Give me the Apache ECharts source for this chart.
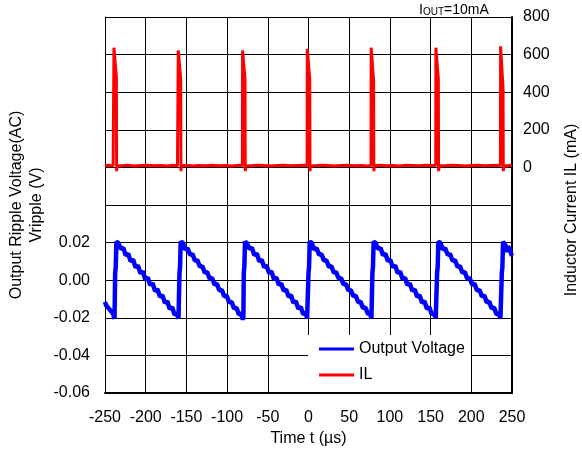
<!DOCTYPE html>
<html>
<head>
<meta charset="utf-8">
<script src="https://cdn.jsdelivr.net/npm/echarts@6/dist/echarts.min.js"></script>
<style>html,body{margin:0;padding:0;background:#fff}#c{width:582px;height:452px}</style>
</head>
<body>
<div id="c"></div>
<script>
// X axis (time, µs)
const xMin = -250, xMax = 250, xStep = 50;
// Left axis: output ripple voltage (V)
const vMin = -0.06, vMax = 0.14, vStep = 0.02, vLabelMax = 0.02;
// Right axis: inductor current (mA)
const iMin = -1200, iMax = 800, iStep = 200, iLabelMin = 0;

const seriesNames = ['Output Voltage', 'IL'];

// Output ripple voltage samples [t (µs), V]
const voltage = [
  [-250,-0.0115],[-248.5,-0.0135],[-247,-0.0125],[-245.5,-0.0150],[-244,-0.0140],[-242.5,-0.0165],[-241,-0.0158],[-240,-0.0180],[-239,-0.0172],[-238.3,-0.0205],[-237.8,-0.0195],
  [-237.5,0.004],[-236.8,0.007],[-236,0.0205],[-234.5,0.0195],
  [-233.5,0.0197],[-230.5,0.0166],[-227.5,0.0172],[-224.5,0.0132],[-221.5,0.0141],[-218.5,0.0100],[-215.5,0.0110],[-212.5,0.0068],[-209.5,0.0078],[-206.5,0.0037],[-203.5,0.0046],[-200.5,0.0005],[-197.5,0.0014],[-194.5,-0.0026],[-191.5,-0.0016],[-188.5,-0.0058],[-185.5,-0.0048],[-182.5,-0.0089],[-179.5,-0.0079],[-176.5,-0.0121],[-173.5,-0.0112],[-170.5,-0.0153],[-167.5,-0.0143],[-164.5,-0.0184],[-161.5,-0.0175],[-159.7,-0.0205],[-159,-0.0195],
  [-158.5,0.004],[-157.8,0.007],[-157,0.0205],[-155.5,0.0195],
  [-154.5,0.0199],[-151.5,0.0163],[-148.5,0.0170],[-145.5,0.0135],[-142.5,0.0139],[-139.5,0.0103],[-136.5,0.0107],[-133.5,0.0072],[-130.5,0.0075],[-127.5,0.0040],[-124.5,0.0044],[-121.5,0.0008],[-118.5,0.0012],[-115.5,-0.0023],[-112.5,-0.0019],[-109.5,-0.0055],[-106.5,-0.0051],[-103.5,-0.0086],[-100.5,-0.0083],[-97.5,-0.0118],[-94.5,-0.0115],[-91.5,-0.0150],[-88.5,-0.0146],[-85.5,-0.0183],[-82.5,-0.0178],[-80.7,-0.0210],[-80,-0.0195],
  [-79.5,0.004],[-78.8,0.007],[-78,0.0205],[-76.5,0.0195],
  [-75.5,0.0196],[-72.5,0.0167],[-69.5,0.0173],[-66.5,0.0133],[-63.5,0.0142],[-60.5,0.0101],[-57.5,0.0109],[-54.5,0.0069],[-51.5,0.0079],[-48.5,0.0038],[-45.5,0.0047],[-42.5,0.0006],[-39.5,0.0015],[-36.5,-0.0025],[-33.5,-0.0017],[-30.5,-0.0057],[-27.5,-0.0049],[-24.5,-0.0088],[-21.5,-0.0080],[-18.5,-0.0120],[-15.5,-0.0111],[-12.5,-0.0152],[-9.5,-0.0142],[-6.5,-0.0181],[-3.5,-0.0174],[-1.7,-0.0203],[-1,-0.0195],
  [0,0.004],[0.7,0.007],[1.5,0.0205],[3,0.0195],
  [4,0.0198],[7,0.0164],[10,0.0169],[13,0.0136],[16,0.0138],[19,0.0104],[22,0.0106],[25,0.0071],[28,0.0076],[31,0.0041],[34,0.0043],[37,0.0009],[40,0.0011],[43,-0.0022],[46,-0.0020],[49,-0.0054],[52,-0.0052],[55,-0.0085],[58,-0.0082],[61,-0.0117],[64,-0.0114],[67,-0.0149],[70,-0.0145],[73,-0.0180],[76,-0.0177],[77.3,-0.0205],[78,-0.0195],
  [78.5,0.004],[79.2,0.007],[80,0.0205],[81.5,0.0195],
  [82.5,0.0197],[85.5,0.0166],[88.5,0.0171],[91.5,0.0133],[94.5,0.0141],[97.5,0.0102],[100.5,0.0108],[103.5,0.0069],[106.5,0.0078],[109.5,0.0038],[112.5,0.0046],[115.5,0.0006],[118.5,0.0013],[121.5,-0.0025],[124.5,-0.0017],[127.5,-0.0057],[130.5,-0.0049],[133.5,-0.0088],[136.5,-0.0080],[139.5,-0.0120],[142.5,-0.0112],[145.5,-0.0152],[148.5,-0.0143],[151.5,-0.0183],[154.5,-0.0175],[156.3,-0.0203],[157.3,-0.0195],
  [158,0.004],[158.7,0.007],[159.5,0.0205],[161,0.0195],
  [162,0.0199],[165,0.0164],[168,0.0170],[171,0.0135],[174,0.0139],[177,0.0103],[180,0.0107],[183,0.0071],[186,0.0076],[189,0.0040],[192,0.0044],[195,0.0008],[198,0.0012],[201,-0.0023],[204,-0.0019],[207,-0.0055],[210,-0.0051],[213,-0.0086],[216,-0.0082],[219,-0.0118],[222,-0.0114],[225,-0.0150],[228,-0.0145],[231,-0.0182],[234,-0.0177],[235.8,-0.0205],[236.8,-0.0195],
  [237.5,0.004],[238.2,0.007],[239,0.0205],[240.5,0.0195],[242,0.0185],[243.5,0.0150],[245,0.0180],[246.5,0.0170],[248,0.0155],[249,0.0140],[250,0.0130]
];

// Inductor current samples [t (µs), mA]
const current = [
  [-250,8],[-246,11],[-243,9],[-240,10],[-239.2,10],[-239,637],[-236,480],[-235.7,-20],[-235.1,10],
  [-230,9],[-222,11],[-214,8],[-206,10],[-198,12],[-190,9],[-182,10],[-174,8],[-166,11],[-161,9],
  [-160.2,10],[-160,622],[-157,470],[-156.7,-20],[-156.1,9],
  [-150,11],[-142,8],[-134,10],[-126,9],[-118,12],[-110,9],[-102,10],[-94,8],[-86,11],
  [-81.2,10],[-81,622],[-78,470],[-77.7,-20],[-77.1,10],
  [-70,9],[-62,11],[-54,10],[-46,8],[-38,10],[-30,12],[-22,9],[-14,10],[-6,11],
  [-1.7,10],[-1.5,630],[1.5,470],[1.8,-20],[2.4,10],
  [8,9],[16,11],[24,10],[32,8],[40,10],[48,12],[56,9],[64,10],[72,8],
  [76.8,10],[77,637],[80,460],[80.3,-20],[80.9,10],
  [88,11],[96,9],[104,10],[112,8],[120,11],[128,10],[136,9],[144,12],[152,10],
  [156.3,10],[156.5,637],[159.5,470],[159.8,-20],[160.4,10],
  [168,9],[176,11],[184,10],[192,8],[200,10],[208,12],[216,9],[224,10],[232,11],
  [235.8,10],[236,644],[239,420],[239.3,-20],[239.9,10],
  [244,9],[247,11],[250,10]
];

const FONT = 'Liberation Sans, Arial, sans-serif';
const chart = echarts.init(document.getElementById('c'), null, {renderer: 'canvas'});
chart.setOption({
  animation: false,
  backgroundColor: '#fff',
  textStyle: {fontFamily: FONT, color: '#000'},
  title: {
    left: 414, top: -4,
    text: '{a|I}{s|OUT}{a|=10mA}',
    textStyle: {
      fontWeight: 'normal',
      rich: {
        a: {fontSize: 14, fontFamily: FONT, fontWeight: 'normal', color: '#000', lineHeight: 16, verticalAlign: 'bottom'},
        s: {fontSize: 10, fontFamily: FONT, fontWeight: 'normal', color: '#000', lineHeight: 10, verticalAlign: 'bottom'}
      }
    }
  },
  grid: {left: 105, right: 70, top: 17, bottom: 59, outerBoundsMode: 'none', containLabel: false},
  legend: {
    orient: 'vertical', left: 308, top: 335,
    backgroundColor: '#fff',
    padding: [6, 6, 9, 11],
    itemGap: 10, itemWidth: 35, itemHeight: 3,
    textStyle: {fontSize: 16, fontFamily: FONT, color: '#000'},
    data: [{name: seriesNames[0], icon: 'rect'}, {name: seriesNames[1], icon: 'rect'}]
  },
  xAxis: {
    type: 'value', min: xMin, max: xMax, interval: xStep,
    name: 'Time t (µs)', nameLocation: 'middle', nameGap: 36,
    nameTextStyle: {fontSize: 16, fontFamily: FONT, color: '#000'},
    axisLine: {show: true, onZero: false, lineStyle: {color: '#000', width: 2}},
    axisTick: {show: false},
    axisLabel: {fontSize: 16, fontFamily: FONT, color: '#000', margin: 17},
    splitLine: {show: true, lineStyle: {color: '#000', width: 1}}
  },
  yAxis: [{
    type: 'value', min: vMin, max: vMax, interval: vStep, position: 'left',
    name: 'Output Ripple Voltage(AC)\nVripple (V)', nameLocation: 'middle', nameGap: 58, nameRotate: 90,
    nameMoveOverlap: false,
    nameTextStyle: {fontSize: 16, fontFamily: FONT, color: '#000', lineHeight: 20, align: 'center'},
    axisLine: {show: true, onZero: false, lineStyle: {color: '#000', width: 1}},
    axisTick: {show: false},
    axisLabel: {fontSize: 16, fontFamily: FONT, color: '#000', margin: 15,
      formatter: v => v <= vLabelMax + 1e-9 ? (Math.abs(v) < 1e-9 ? 0 : v).toFixed(2) : ''},
    splitLine: {show: true, lineStyle: {color: '#000', width: 1}}
  }, {
    type: 'value', min: iMin, max: iMax, interval: iStep, position: 'right',
    name: 'Inductor Current IL (mA)', nameLocation: 'middle', nameGap: 52, nameRotate: 90,
    nameMoveOverlap: false,
    nameTextStyle: {fontSize: 16, fontFamily: FONT, color: '#000', padding: [0, 10, 0, 0]},
    axisLine: {show: true, onZero: false, lineStyle: {color: '#000', width: 2}},
    axisTick: {show: false},
    axisLabel: {fontSize: 16, fontFamily: FONT, color: '#000', margin: 11,
      formatter: v => v >= iLabelMin ? String(v) : ''},
    splitLine: {show: false}
  }],
  series: [{
    name: seriesNames[0], type: 'line', yAxisIndex: 0, data: voltage,
    showSymbol: false, symbol: 'none', color: '#0000FF',
    lineStyle: {color: '#0000FF', width: 4.5}, z: 3
  }, {
    name: seriesNames[1], type: 'line', yAxisIndex: 1, data: current,
    showSymbol: false, symbol: 'none', color: '#FF0000',
    lineStyle: {color: '#FF0000', width: 3}, z: 3
  }]
});
</script>
</body>
</html>
